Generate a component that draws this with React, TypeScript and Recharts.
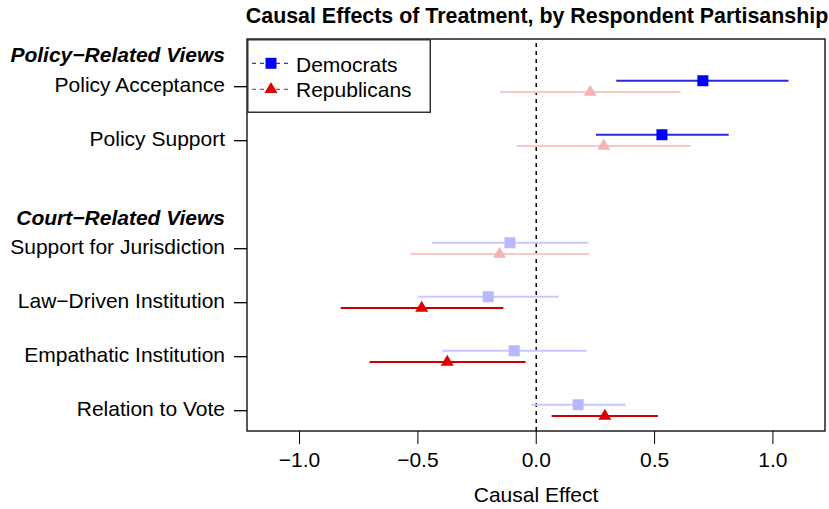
import React from 'react';
import {
  ComposedChart,
  Scatter,
  ErrorBar,
  XAxis,
  YAxis,
  ReferenceLine,
  ReferenceArea,
  Legend,
} from 'recharts';

const rowLabels = [
  'Policy Acceptance',
  'Policy Support',
  'Support for Jurisdiction',
  'Law\u2212Driven Institution',
  'Empathatic Institution',
  'Relation to Vote',
];
const rowPositions = [1, 2, 4, 5, 6, 7];
const headerLabels = ['Policy\u2212Related Views', 'Court\u2212Related Views'];
const headerPositions = [0.444, 3.469];

const demEstimates = [0.704, 0.531, -0.111, -0.203, -0.093, 0.177];
const demLower = [0.338, 0.252, -0.441, -0.499, -0.397, -0.021];
const demUpper = [1.066, 0.813, 0.221, 0.095, 0.213, 0.378];
const demSignificant = [true, true, false, false, false, false];

const repEstimates = [0.228, 0.285, -0.155, -0.484, -0.376, 0.29];
const repLower = [-0.153, -0.083, -0.532, -0.826, -0.704, 0.065];
const repUpper = [0.61, 0.652, 0.223, -0.139, -0.045, 0.514];
const repSignificant = [false, false, false, true, true, true];

const xTicks = [-1, -0.5, 0, 0.5, 1];
const xDomain = [-1.222, 1.22];
const yDomain = [0.117, 7.376];

const FONT = '"Liberation Sans", Arial, Helvetica, sans-serif';

const build = (
  est: number[],
  lo: number[],
  hi: number[],
  sig: boolean[],
  offset: number,
  wantSig: boolean
) =>
  rowPositions
    .map((r, i) => ({
      x: est[i],
      y: r + offset,
      err: [est[i] - lo[i], hi[i] - est[i]],
      sig: sig[i],
    }))
    .filter((d) => d.sig === wantSig);

const demSig = build(demEstimates, demLower, demUpper, demSignificant, -0.11, true);
const demNon = build(demEstimates, demLower, demUpper, demSignificant, -0.11, false);
const repSig = build(repEstimates, repLower, repUpper, repSignificant, 0.1, true);
const repNon = build(repEstimates, repLower, repUpper, repSignificant, 0.1, false);

const makeSquare = (fill: string) => (props: any) => {
  const { cx, cy } = props;
  if (cx == null || cy == null) return <g />;
  const s = 11;
  return <rect x={cx - s / 2} y={cy - s / 2} width={s} height={s} fill={fill} />;
};

const makeTriangle = (fill: string) => (props: any) => {
  const { cx, cy } = props;
  if (cx == null || cy == null) return <g />;
  const w = 13;
  const h = 11;
  const pts = `${cx},${cy - (2 * h) / 3} ${cx - w / 2},${cy + h / 3} ${cx + w / 2},${cy + h / 3}`;
  return <polygon points={pts} fill={fill} />;
};

const yTickLabel = (v: number) => {
  const ri = rowPositions.indexOf(v);
  if (ri >= 0) return { text: rowLabels[ri], header: false };
  const hi = headerPositions.indexOf(v);
  if (hi >= 0) return { text: headerLabels[hi], header: true };
  return { text: '', header: false };
};

const YTick = (props: any) => {
  const { x, y, payload } = props;
  const { text, header } = yTickLabel(payload.value);
  return (
    <g>
      {!header && <line x1={x - 13} x2={x} y1={y} y2={y} stroke="#000" strokeWidth={1.3} />}
      <text
        x={x - 22}
        y={y + 5}
        textAnchor="end"
        fontSize={21}
        fontFamily={FONT}
        fontWeight={header ? 'bold' : 'normal'}
        fontStyle={header ? 'italic' : 'normal'}
        fill="#000"
      >
        {text}
      </text>
    </g>
  );
};

const fmtX = (v: number) => (v < 0 ? '\u2212' + Math.abs(v).toFixed(1) : v.toFixed(1));

const LegendBox = () => (
  <svg width={184} height={74} style={{ display: 'block' }}>
    <rect x={0.75} y={0.75} width={182.5} height={72.5} fill="#fff" stroke="#333" strokeWidth={1.5} />
    <line x1={5} x2={41} y1={24.3} y2={24.3} stroke="#0000FF" strokeWidth={1} strokeDasharray="4 4" />
    <rect x={18.5} y={18.8} width={11} height={11} fill="#0000FF" />
    <text x={49} y={32.7} fontSize={21} fontFamily={FONT} fill="#000">Democrats</text>
    <line x1={5} x2={41} y1={50.3} y2={50.3} stroke="#E00000" strokeWidth={1} strokeDasharray="4 4" />
    <polygon points={`24,${50.3 - 7.3} 17.5,${50.3 + 3.7} 30.5,${50.3 + 3.7}`} fill="#E00000" />
    <text x={49} y={57.7} fontSize={21} fontFamily={FONT} fill="#000">Republicans</text>
  </svg>
);

export default function App() {
  return (
    <div style={{ position: 'absolute', left: 0, top: 0, width: 829, height: 509, background: '#fff', fontFamily: FONT }}>
      <ComposedChart
        width={829}
        height={509}
        margin={{ top: 39, right: 4, bottom: 0, left: 0 }}
      >
        <text x={537} y={23} textAnchor="middle" fontSize={21.4} fontWeight="bold" fontFamily={FONT} fill="#000">
          Causal Effects of Treatment, by Respondent Partisanship
        </text>
        <XAxis
          type="number"
          dataKey="x"
          domain={xDomain}
          ticks={xTicks}
          allowDataOverflow
          tickFormatter={fmtX}
          axisLine={false}
          tickSize={13}
          tickMargin={8}
          height={78}
          stroke="#000"
          tick={{ fontSize: 21, fill: '#000', fontFamily: FONT }}
          label={{ value: 'Causal Effect', position: 'insideBottom', offset: 7, fontSize: 21, fill: '#000', fontFamily: FONT }}
        />
        <YAxis
          type="number"
          dataKey="y"
          domain={yDomain}
          reversed
          allowDataOverflow
          ticks={[...headerPositions, ...rowPositions]}
          interval={0}
          tick={<YTick />}
          tickLine={false}
          axisLine={false}
          tickSize={0}
          tickMargin={0}
          width={247}
        />
        <ReferenceArea
          x1={xDomain[0]}
          x2={xDomain[1]}
          y1={yDomain[0]}
          y2={yDomain[1]}
          fill="none"
          fillOpacity={0}
          stroke="#222"
          strokeWidth={1.5}
          ifOverflow="visible"
        />
        <ReferenceLine x={0} stroke="#000" strokeWidth={1.5} strokeDasharray="4 4" />
        <Scatter data={demNon} shape={makeSquare('#B8B8FF')} isAnimationActive={false}>
          <ErrorBar dataKey="err" direction="x" width={0} stroke="#C8C8FF" strokeWidth={2} />
        </Scatter>
        <Scatter data={repNon} shape={makeTriangle('#F5B4B4')} isAnimationActive={false}>
          <ErrorBar dataKey="err" direction="x" width={0} stroke="#F8C8C8" strokeWidth={2} />
        </Scatter>
        <Scatter data={demSig} shape={makeSquare('#0000FF')} isAnimationActive={false}>
          <ErrorBar dataKey="err" direction="x" width={0} stroke="#2A2ADD" strokeWidth={2} />
        </Scatter>
        <Scatter data={repSig} shape={makeTriangle('#E00000')} isAnimationActive={false}>
          <ErrorBar dataKey="err" direction="x" width={0} stroke="#CC0000" strokeWidth={2} />
        </Scatter>
        <Legend
          layout="vertical"
          align="center"
          verticalAlign="middle"
          wrapperStyle={{ position: 'absolute', top: 39, left: 247, width: 184, height: 74 }}
          content={() => <LegendBox />}
        />
      </ComposedChart>
    </div>
  );
}
